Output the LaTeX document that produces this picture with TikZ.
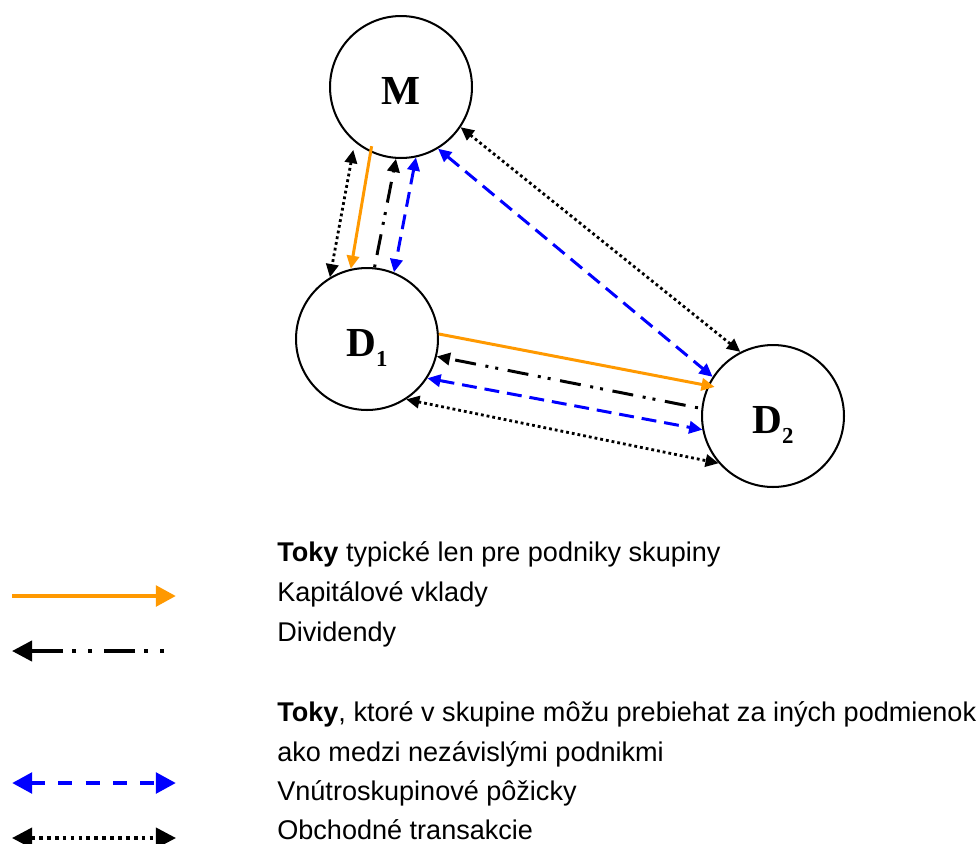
\documentclass[tikz,border=0pt]{standalone}
\usepackage{fontspec}
\setmainfont{Liberation Sans}
\newfontfamily\firmfont{Liberation Serif}
\usetikzlibrary{arrows.meta}
\definecolor{kapital}{RGB}{255,153,0}
\definecolor{pozicka}{RGB}{0,0,255}
\tikzset{
  flw/.tip={Triangle[length=7.5pt,width=7pt]},
  flwbig/.tip={Triangle[length=11.4pt,width=11.4pt]}
}
\begin{document}
\begin{tikzpicture}[x=0.02cm,y=-0.02cm]
	\tikzstyle{firm}=[draw,circle,line width=1.15pt,minimum size=2.84cm,inner sep=0pt,text height=19.8pt,text depth=0pt,font=\firmfont\bfseries\fontsize{23.5}{23.5}\selectfont]
	\tikzstyle{capflow}=[draw=kapital,line width=1.7pt,-flw]
	\tikzstyle{divflow}=[line width=1.7pt,dash pattern=on 1.7pt off 5.5pt on 12pt off 5.5pt on 1.7pt off 4pt,-flw]
	\tikzstyle{loanflow}=[draw=pozicka,line width=1.7pt,dash pattern=on 8.5pt off 4.5pt,flw-flw]
	\tikzstyle{tradeflow}=[line width=1.6pt,dash pattern=on 1.6pt off 1.7pt,flw-flw]
	\tikzstyle{capkey}=[draw=kapital,line width=2.8pt,-flwbig]
	\tikzstyle{divkey}=[line width=2.3pt,dash pattern=on 2.3pt off 6.8pt on 2.3pt off 5.1pt on 17.6pt off 6.8pt,-flwbig]
	\tikzstyle{loankey}=[draw=pozicka,line width=2.8pt,dash pattern=on 8pt off 7.6pt,flwbig-flwbig]
	\tikzstyle{tradekey}=[line width=2.1pt,dash pattern=on 2.1pt off 2.4pt,flwbig-flwbig]
	\tikzstyle{legtext}=[anchor=base west,inner sep=0pt,font=\fontsize{15.4}{18}\selectfont]

	\path[use as bounding box,fill=white] (0,0) rectangle (980,843);

	% mother company and the two daughters
	\path (401,87)  node[firm] (M)  {M};
	\path (367,339) node[firm] (D1) {D\raisebox{-5.5pt}{\fontsize{13}{13}\selectfont 1}};
	\path (773,416) node[firm] (D2) {D\raisebox{-5.5pt}{\fontsize{13}{13}\selectfont 2}};

	% flows M -- D1
	\draw[tradeflow,shorten <=4.5pt] (M.230) -- (D1.121.5);
	\draw[capflow,shorten <=-3.5pt] (M.245) -- (D1.103);
	\draw[divflow] (D1.84.4) -- (M.266);
	\draw[loanflow] (M.282.5) -- (D1.68);
	% flows M -- D2
	\draw[loanflow] (M.301) -- (D2.147.4);
	\draw[tradeflow] (M.326) -- (D2.117.6);
	% flows D1 -- D2
	\draw[capflow,shorten >=-4pt] (D1.4.8) -- (D2.155.8);
	\draw[divflow,shorten <=2pt] (D2.174) -- (D1.346);
	\draw[loanflow] (D1.327.4) -- (D2.191);
	\draw[tradeflow] (D1.303) -- (D2.221.7);

	% legend
	\coordinate (kap-a)   at (12,596);  \coordinate (kap-b)   at (176,596);
	\coordinate (div-a)   at (12,651);  \coordinate (div-b)   at (164,651);
	\coordinate (loan-a)  at (12,783);  \coordinate (loan-b)  at (176,783);
	\coordinate (trade-a) at (12,838);  \coordinate (trade-b) at (176,838);
	\draw[capkey]   (kap-a) -- (kap-b);
	\draw[divkey]   (div-b) -- (div-a);
	\draw[loankey]  (loan-a) -- (loan-b);
	\draw[tradekey] (trade-a) -- (trade-b);

	\path (277,561) node[legtext] (typ)   {\textbf{Toky} typické len pre podniky skupiny};
	\path (277,601) node[legtext] (kap)   {Kapitálové vklady};
	\path (277,641) node[legtext] (div)   {Dividendy};
	\path (277,721) node[legtext] (ine)   {\textbf{Toky}, ktoré v skupine môžu prebiehat za iných podmienok};
	\path (277,761) node[legtext] (ine2)  {ako medzi nezávislými podnikmi};
	\path (277,800) node[legtext] (loan)  {Vnútroskupinové pôžicky};
	\path (277,839) node[legtext] (trade) {Obchodné transakcie};
\end{tikzpicture}
\end{document}
